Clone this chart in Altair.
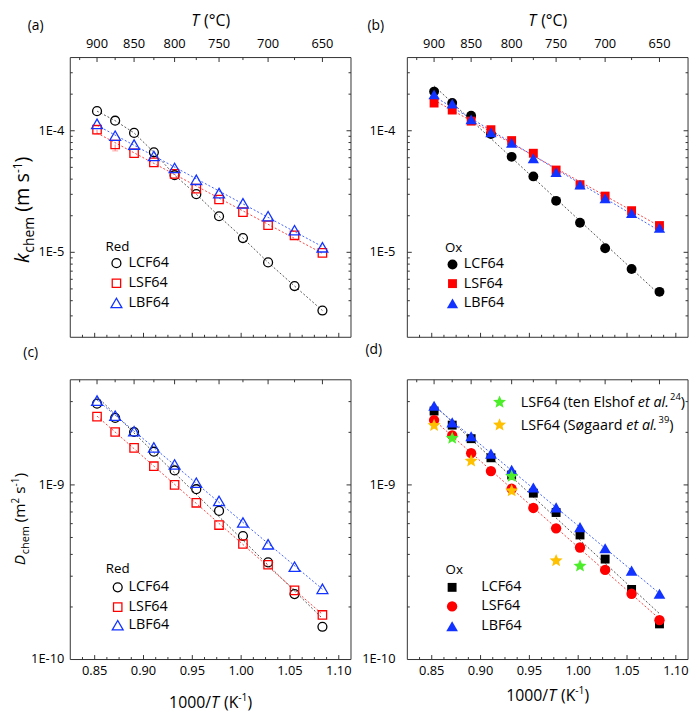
import altair as alt
import pandas as pd

FONT = "Open Sans"
AX = "#333333"

# ---------------- data ----------------
T_C = [900, 875, 850, 825, 800, 775, 750, 725, 700, 675, 650]
SERIES = ["LCF64", "LSF64", "LBF64"]

# (a) k_chem, reduction
k_red_LCF64 = [1.45e-4, 1.21e-4, 9.6e-5, 6.65e-5, 4.31e-5, 3.01e-5, 1.98e-5, 1.31e-5, 8.26e-6, 5.28e-6, 3.32e-6]
k_red_LSF64 = [1.02e-4, 7.71e-5, 6.53e-5, 5.49e-5, 4.42e-5, 3.34e-5, 2.72e-5, 2.14e-5, 1.67e-5, 1.38e-5, 9.9e-6]
k_red_LBF64 = [1.14e-4, 9.1e-5, 7.7e-5, 6.2e-5, 4.94e-5, 3.95e-5, 3.07e-5, 2.53e-5, 1.98e-5, 1.52e-5, 1.10e-5]
# lower error bars visible on LSF64 (a)
err_T = [900, 875]
err_val = [1.02e-4, 7.71e-5]
err_low = [9.4e-5, 6.83e-5]
# (b) k_chem, oxidation
k_ox_LCF64 = [2.10e-4, 1.69e-4, 1.33e-4, 9.4e-5, 6.1e-5, 4.21e-5, 2.65e-5, 1.75e-5, 1.08e-5, 7.3e-6, 4.73e-6]
k_ox_LSF64 = [1.69e-4, 1.48e-4, 1.20e-4, 1.02e-4, 8.3e-5, 6.53e-5, 4.75e-5, 3.6e-5, 2.9e-5, 2.2e-5, 1.66e-5]
k_ox_LBF64 = [1.99e-4, 1.67e-4, 1.24e-4, 9.7e-5, 7.96e-5, 5.94e-5, 4.56e-5, 3.6e-5, 2.78e-5, 2.1e-5, 1.59e-5]
# (c) D_chem, reduction
D_red_LCF64 = [2.92e-9, 2.42e-9, 2.01e-9, 1.55e-9, 1.21e-9, 9.45e-10, 7.1e-10, 5.1e-10, 3.6e-10, 2.37e-10, 1.54e-10]
D_red_LSF64 = [2.46e-9, 2.01e-9, 1.63e-9, 1.28e-9, 1.0e-9, 7.9e-10, 5.89e-10, 4.59e-10, 3.49e-10, 2.49e-10, 1.8e-10]
D_red_LBF64 = [3.04e-9, 2.49e-9, 2.03e-9, 1.64e-9, 1.31e-9, 1.03e-9, 8.1e-10, 6.09e-10, 4.57e-10, 3.4e-10, 2.54e-10]
# (d) D_chem, oxidation
D_ox_LCF64 = [2.65e-9, 2.2e-9, 1.84e-9, 1.43e-9, 1.14e-9, 8.97e-10, 6.95e-10, 5.17e-10, 3.76e-10, 2.52e-10, 1.6e-10]
D_ox_LSF64 = [2.35e-9, 1.92e-9, 1.52e-9, 1.2e-9, 9.5e-10, 7.38e-10, 5.64e-10, 4.38e-10, 3.26e-10, 2.38e-10, 1.68e-10]
D_ox_LBF64 = [2.84e-9, 2.28e-9, 1.9e-9, 1.51e-9, 1.22e-9, 9.66e-10, 7.44e-10, 5.73e-10, 4.34e-10, 3.23e-10, 2.38e-10]
# literature points in (d)
elshof_T = [875, 800, 725]
elshof_D = [1.85e-9, 1.12e-9, 3.43e-10]
sogaard_T = [900, 850, 800, 750]
sogaard_D = [2.19e-9, 1.37e-9, 9.25e-10, 3.68e-10]

# ---------------- axes ----------------
X_DOMAIN = [0.825, 1.1125]
X_MAJOR = [0.85, 0.90, 0.95, 1.00, 1.05, 1.10]
X_MINOR = [0.8375, 0.8625, 0.875, 0.8875, 0.9125, 0.925, 0.9375, 0.9625, 0.975, 0.9875,
           1.0125, 1.025, 1.0375, 1.0625, 1.075, 1.0875]
T_MAJOR = [900, 850, 800, 750, 700, 650]
T_MINOR = [925, 875, 825, 775, 725, 675]
K_DOMAIN = [2e-6, 4e-4]
K_TICK_MAJOR = [1e-5, 1e-4]
K_LABELS = [1e-5, 1e-4]
K_MINOR = [3e-6, 4e-6, 5e-6, 6e-6, 7e-6, 8e-6, 9e-6,
           2e-5, 3e-5, 4e-5, 5e-5, 6e-5, 7e-5, 8e-5, 9e-5, 2e-4, 3e-4]
D_DOMAIN = [1e-10, 4e-9]
D_TICK_MAJOR = [1e-9]
D_LABELS = [1e-10, 1e-9]
D_MINOR = [2e-10, 3e-10, 4e-10, 5e-10, 6e-10, 7e-10, 8e-10, 9e-10, 2e-9, 3e-9]

COLORS = ["#000000", "#ff0000", "#1233ff"]
LINE_COLORS = ["#555555", "#ff4040", "#4060ff"]
GREEN = "#4cee2a"
ORANGE = "#ffc000"
STAR = ("M0,-1L0.265,-0.364L0.951,-0.309L0.428,0.139L0.588,0.809L0,0.45"
        "L-0.588,0.809L-0.428,0.139L-0.951,-0.309L-0.265,-0.364Z")

W, H = 284, 283          # each panel's plot area
GAP_X, GAP_Y = 57, 43    # gaps between plot areas
MAJ, MIN = 4.5, 2.5

EM = {" ": 0.26, "(": 0.296, ")": 0.296, "/": 0.367, "-": 0.322, ".": 0.266, "°": 0.418,
      "C": 0.633, "D": 0.721, "E": 0.556, "F": 0.516, "K": 0.601, "L": 0.518, "S": 0.549,
      "T": 0.556, "a": 0.556, "c": 0.476, "d": 0.613, "e": 0.561, "f": 0.339, "g": 0.54,
      "h": 0.614, "k": 0.525, "l": 0.253, "m": 0.93, "n": 0.614, "o": 0.604, "r": 0.408,
      "s": 0.477, "t": 0.353, "ø": 0.604}


def tw(s, size):
    return sum(EM.get(c, 0.572 if c.isdigit() else 0.55) for c in s) * size


def text_at(s, x, y, size, italic=False, align="left", baseline="alphabetic", angle=0, dy=0,
            color="black"):
    mk = dict(align=align, baseline=baseline, font=FONT, fontSize=size, color=color)
    if italic:
        mk["fontStyle"] = "italic"
    if angle:
        mk["angle"] = angle
    if dy:
        mk["dy"] = dy
    return alt.Chart(pd.DataFrame({"t": [s]})).mark_text(**mk).encode(
        x=alt.value(x), y=alt.value(y), text="t:N")


def rich_h(pieces, x0, y, center=False):
    total = sum(tw(p[0], p[1]) for p in pieces)
    cur = x0 - total / 2 if center else x0
    out = []
    for t, s, it, dy in pieces:
        lead = len(t) - len(t.lstrip(" "))
        cur += tw(" " * lead, s)
        out.append(text_at(t.strip(" "), cur, y, s, italic=it, dy=dy))
        cur += tw(t, s) - tw(" " * lead, s)
    return out


def rich_v(pieces, x, yc):
    total = sum(tw(p[0], p[1]) for p in pieces)
    cur = yc + total / 2
    out = []
    for t, s, it, dy in pieces:
        lead = len(t) - len(t.lstrip(" "))
        cur -= tw(" " * lead, s)
        out.append(text_at(t.strip(" "), x, cur, s, italic=it, angle=270, dy=dy))
        cur -= tw(t, s) - tw(" " * lead, s)
    return out


def series_df(vals):
    rows = []
    for name, v in zip(SERIES, vals):
        for t, y in zip(T_C, v):
            rows.append({"T": t, "series": name, "value": y})
    return pd.DataFrame(rows)


def panel(cfg, ox, oy):
    xs = alt.Scale(domain=X_DOMAIN, range=[ox, ox + W], nice=False, zero=False)
    ys = alt.Scale(type="log", domain=cfg["ydom"], range=[oy + H, oy], nice=False)

    def X(f):
        return alt.X(f"{f}:Q", scale=xs, axis=None)

    def Y(f):
        return alt.Y(f"{f}:Q", scale=ys, axis=None)

    layers = []
    # frame
    layers.append(alt.Chart(pd.DataFrame({"a": [0]})).mark_rect(fillOpacity=0, stroke=AX, strokeWidth=1)
                  .encode(x=alt.value(ox), x2=alt.value(ox + W), y=alt.value(oy), y2=alt.value(oy + H)))

    base = alt.Chart(series_df(cfg["vals"])).transform_calculate(invT="1000/(datum.T + 273.15)")

    # fitted lines
    for name, lc in zip(SERIES, LINE_COLORS):
        b = base.transform_filter(alt.datum.series == name)
        if cfg.get("connect") == name:
            ln = b.mark_line(color=lc, strokeWidth=1, strokeDash=[2, 2])
        else:
            ln = (b.transform_calculate(ly="log(datum.value)/LN10")
                  .transform_regression("invT", "ly")
                  .transform_calculate(value="pow(10, datum.ly)")
                  .mark_line(color=lc, strokeWidth=1, strokeDash=[2, 2]))
        layers.append(ln.encode(x=X("invT"), y=Y("value")))

    # error bars
    if cfg.get("errors"):
        eT, ev, el = cfg["errors"]
        ed = alt.Chart(pd.DataFrame({"T": eT, "v": ev, "lo": el})).transform_calculate(
            invT="1000/(datum.T + 273.15)")
        layers.append(ed.mark_rule(color="#ff8080", strokeWidth=1).encode(
            x=X("invT"), y=Y("lo"), y2="v:Q"))
        layers.append(ed.mark_tick(color="#ff8080", orient="horizontal", size=6, thickness=1).encode(
            x=X("invT"), y=Y("lo")))

    shape_sc = alt.Scale(domain=SERIES, range=cfg["shapes"])
    color_sc = alt.Scale(domain=SERIES, range=COLORS)
    size_sc = alt.Scale(type="ordinal", domain=SERIES, range=cfg["sizes"])
    enc = dict(shape=alt.Shape("series:N", scale=shape_sc, legend=None),
               color=alt.Color("series:N", scale=color_sc, legend=None),
               size=alt.Size("series:N", scale=size_sc, legend=None))
    pm = dict(filled=cfg["filled"], opacity=1)
    if not cfg["filled"]:
        pm["strokeWidth"] = 1.3
    layers.append(base.mark_point(**pm).encode(x=X("invT"), y=Y("value"), **enc))

    # literature stars
    for Ts, Ds, col in cfg.get("stars", []):
        sd = alt.Chart(pd.DataFrame({"T": Ts, "value": Ds})).transform_calculate(
            invT="1000/(datum.T + 273.15)")
        layers.append(sd.mark_point(shape=STAR, filled=True, color=col, size=190, opacity=1)
                      .encode(x=X("invT"), y=Y("value")))

    # ticks (inward)
    def xticks(vals, ln, top, fromT):
        d = alt.Chart(pd.DataFrame({"v": vals}))
        f = "v"
        if fromT:
            d = d.transform_calculate(p="1000/(datum.v + 273.15)")
            f = "p"
        y0, y1 = (oy, oy + ln) if top else (oy + H, oy + H - ln)
        return d.mark_rule(color=AX, strokeWidth=1).encode(x=X(f), y=alt.value(y0), y2=alt.value(y1))

    def yticks(vals, ln, right):
        d = alt.Chart(pd.DataFrame({"v": vals}))
        x0, x1 = (ox + W, ox + W - ln) if right else (ox, ox + ln)
        return d.mark_rule(color=AX, strokeWidth=1).encode(y=Y("v"), x=alt.value(x0), x2=alt.value(x1))

    layers += [xticks(X_MAJOR, MAJ, False, False), xticks(X_MINOR, MIN, False, False),
               xticks(T_MAJOR, MAJ, True, True), xticks(T_MINOR, MIN, True, True),
               yticks(cfg["ymaj"], MAJ, False), yticks(cfg["ymin"], MIN, False),
               yticks(cfg["ymaj"], MAJ, True), yticks(cfg["ymin"], MIN, True)]

    # tick labels
    layers.append(alt.Chart(pd.DataFrame({"v": cfg["ylabels"]}))
                  .transform_calculate(lab="'1E' + round(log(datum.v)/LN10)")
                  .mark_text(align="right", baseline="middle", font=FONT, fontSize=13, color="black")
                  .encode(y=Y("v"), x=alt.value(ox - cfg["ygap"]), text="lab:N"))
    if cfg["toplabels"]:
        layers.append(alt.Chart(pd.DataFrame({"v": T_MAJOR}))
                      .transform_calculate(p="1000/(datum.v + 273.15)")
                      .mark_text(align="center", baseline="middle", font=FONT, fontSize=13, color="black")
                      .encode(x=X("p"), y=alt.value(oy - 14), text="v:N"))
        layers += rich_h([("T", 16, True, 0), (" (°C)", 16, False, 0)], ox + W / 2, oy - 32, center=True)
    else:
        layers.append(alt.Chart(pd.DataFrame({"v": X_MAJOR}))
                      .transform_calculate(lab="format(datum.v, '.2f')")
                      .mark_text(align="center", baseline="middle", font=FONT, fontSize=13, color="black")
                      .encode(x=X("v"), y=alt.value(oy + H + 12), text="lab:N"))
        layers += rich_h([("1000/", 16, False, 0), ("T", 16, True, 0), (" (K", 16, False, 0),
                          ("-1", 10.5, False, -7), (")", 16, False, 0)],
                         ox + W / 2, oy + cfg["xtitle_y"], center=True)

    if cfg.get("ytitle"):
        pieces, bx, cy = cfg["ytitle"]
        layers += rich_v(pieces, ox + bx, oy + cy)

    # panel letter
    lx, ly = cfg["letter_pos"]
    layers.append(text_at(cfg["letter"], ox + lx, oy + ly, 14, align="center", baseline="middle"))

    # legend
    lg = cfg["legend"]
    layers.append(text_at(lg["title"], ox + lg["tx"], oy + lg["ty"], 13.5, baseline="middle"))
    ldf = pd.DataFrame({"series": SERIES, "px": [ox + lg["sx"]] * 3, "py": [oy + r for r in lg["rows"]]})
    layers.append(alt.Chart(ldf).mark_point(**pm).encode(
        x=alt.X("px:Q", scale=None), y=alt.Y("py:Q", scale=None), **enc))
    for name, ry in zip(SERIES, lg["rows"]):
        layers.append(text_at(name, ox + lg["lx"], oy + ry, 14.5, baseline="middle"))

    for (sx, sy, col, pieces) in cfg.get("star_legend", []):
        sdf = pd.DataFrame({"px": [ox + sx], "py": [oy + sy]})
        layers.append(alt.Chart(sdf).mark_point(shape=STAR, filled=True, color=col, size=190, opacity=1)
                      .encode(x=alt.X("px:Q", scale=None), y=alt.Y("py:Q", scale=None)))
        layers += rich_h(pieces, ox + sx + 21.4, oy + sy + 5)

    return layers


KTITLE = [("k", 20, True, 0), ("chem", 14, False, 5), (" (m s", 20, False, 0),
          ("-1", 12, False, -7), (")", 20, False, 0)]
DTITLE = [("D", 15.5, True, 0), ("chem", 11, False, 4), (" (m", 15.5, False, 0),
          ("2", 10, False, -6.5), (" s", 15.5, False, 0), ("-1", 10, False, -6.5), (")", 15.5, False, 0)]

OXB = W + GAP_X
OYB = H + GAP_Y

layers = []
layers += panel(dict(vals=[k_red_LCF64, k_red_LSF64, k_red_LBF64], ydom=K_DOMAIN, ymaj=K_TICK_MAJOR,
                     ymin=K_MINOR, ylabels=K_LABELS, ygap=6, shapes=["circle", "square", "triangle-up"],
                     sizes=[81, 72, 121], filled=False, connect="LCF64", toplabels=True,
                     errors=(err_T, err_val, err_low),
                     ytitle=(KTITLE, -41.5, 154), letter="(a)", letter_pos=(-35, -32),
                     legend=dict(title="Red", tx=35.7, ty=191.7, sx=46.7, rows=[208, 228.3, 248.3], lx=59)),
                0, 0)
layers += panel(dict(vals=[k_ox_LCF64, k_ox_LSF64, k_ox_LBF64], ydom=K_DOMAIN, ymaj=K_TICK_MAJOR,
                     ymin=K_MINOR, ylabels=K_LABELS, ygap=12, shapes=["circle", "square", "triangle-up"],
                     sizes=[100, 81, 130], filled=True, toplabels=True, letter="(b)", letter_pos=(-32, -32),
                     legend=dict(title="Ox", tx=38, ty=193, sx=45.7, rows=[209.3, 228.7, 248.7], lx=57)),
                OXB, 0)
layers += panel(dict(vals=[D_red_LCF64, D_red_LSF64, D_red_LBF64], ydom=D_DOMAIN, ymaj=D_TICK_MAJOR,
                     ymin=D_MINOR, ylabels=D_LABELS, ygap=6, shapes=["circle", "square", "triangle-up"],
                     sizes=[81, 72, 121], filled=False, toplabels=False, xtitle_y=332,
                     ytitle=(DTITLE, -45.5, 141), letter="(c)", letter_pos=(-40, -27),
                     legend=dict(title="Red", tx=36, ty=191, sx=48, rows=[210, 230, 248.3], lx=59)),
                0, OYB)
layers += panel(dict(vals=[D_ox_LCF64, D_ox_LSF64, D_ox_LBF64], ydom=D_DOMAIN, ymaj=D_TICK_MAJOR,
                     ymin=D_MINOR, ylabels=D_LABELS, ygap=12, shapes=["square", "circle", "triangle-up"],
                     sizes=[81, 110, 140], filled=True, toplabels=False, xtitle_y=325,
                     letter="(d)", letter_pos=(-34, -30),
                     stars=[(elshof_T, elshof_D, GREEN), (sogaard_T, sogaard_D, ORANGE)],
                     star_legend=[(93.3, 22.7, GREEN, [("LSF64 (ten Elshof ", 14.5, False, 0),
                                                       ("et al.", 14.5, True, 0),
                                                       ("24", 9.5, False, -7), (")", 14.5, False, 0)]),
                                  (93.3, 45.7, ORANGE, [("LSF64 (Søgaard ", 14.5, False, 0),
                                                        ("et al.", 14.5, True, 0),
                                                        ("39", 9.5, False, -7), (")", 14.5, False, 0)])],
                     legend=dict(title="Ox", tx=38.7, ty=192.3, sx=45.3, rows=[210, 229.3, 249.3], lx=74.7)),
                OXB, OYB)

chart = (alt.layer(*layers)
         .resolve_scale(x="independent", y="independent", shape="independent",
                        color="independent", size="independent")
         .properties(width=2 * W + GAP_X, height=2 * H + GAP_Y,
                     autosize=alt.AutoSizeParams(type="none"),
                     padding={"left": 63, "top": 46, "right": 4, "bottom": 53},
                     background="white")
         .configure_view(stroke="transparent"))

chart.save("out.html", embed_options={"renderer": "svg", "actions": False})
